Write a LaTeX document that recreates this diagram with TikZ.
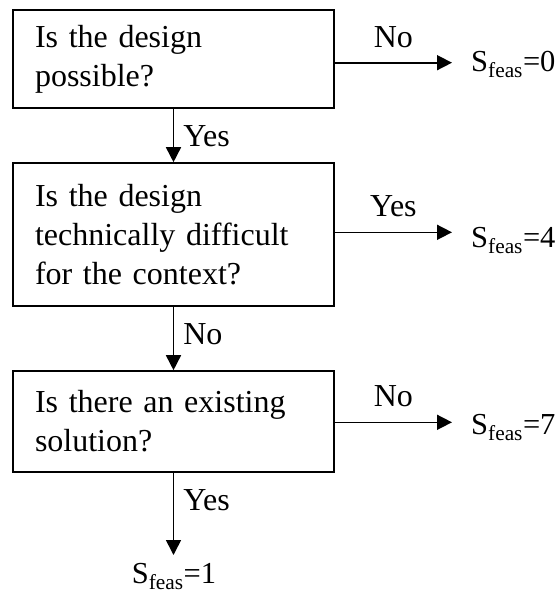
\documentclass[tikz,border=0pt]{standalone}
\usepackage{fontspec}
\setmainfont{Liberation Serif}
\usetikzlibrary{arrows.meta}
\begin{document}
\begin{tikzpicture}[x=1pt,y=-1pt,
  font=\fontsize{32}{39}\selectfont,
  qbox/.style={draw, line width=1.6pt, rectangle, align=left, text width=277pt,
    inner xsep=22pt, inner ysep=0pt, minimum width=321pt},
  arr/.style={line width=1.6pt, -{Triangle[length=15pt,width=15pt]}},
  lab/.style={inner sep=0pt},
  res/.style={inner xsep=19pt, inner ysep=0pt, anchor=base west, font=\fontsize{30.5}{36}\selectfont},
  resb/.style={inner sep=0pt, anchor=base, font=\fontsize{30.5}{36}\selectfont}]
\useasboundingbox (0,0) rectangle (559,600);
\node[qbox, minimum height=98pt] (b1) at (173.5,59) {Is the design\\possible?};
\node[qbox, minimum height=143pt] (b2) at (173.5,234.5) {Is the design\\technically difficult\\for the context?};
\node[qbox, minimum height=101pt] (b3) at (173.5,421.5) {Is there an existing\\solution?};
\node[res] (s0) at (452,71) {S\textsubscript{feas}=0};
\node[res] (s4) at (452,247) {S\textsubscript{feas}=4};
\node[res] (s7) at (452,434) {S\textsubscript{feas}=7};
\node[resb] (s1) at (174,583) {S\textsubscript{feas}=1};
\coordinate (t3) at (173.5,555);
\draw[arr] (b1.south) -- (b2.north) node[lab, anchor=base west, pos=0.71, xshift=9pt] {Yes};
\draw[arr] (b2.south) -- (b3.north) node[lab, anchor=base west, pos=0.6, xshift=9pt] {No};
\draw[arr] (b3.south) -- (t3) node[lab, anchor=base west, pos=0.46, xshift=9pt] {Yes};
\draw[arr] ([yshift=-3.7pt]b1.east) -- ([yshift=-3.7pt]b1.east -| s0.west) node[lab, anchor=base, midway, yshift=15pt] {No};
\draw[arr] ([yshift=2.2pt]b2.east) -- ([yshift=2.2pt]b2.east -| s4.west) node[lab, anchor=base, midway, yshift=16pt] {Yes};
\draw[arr] ([yshift=-0.8pt]b3.east) -- ([yshift=-0.8pt]b3.east -| s7.west) node[lab, anchor=base, midway, yshift=16pt] {No};
\end{tikzpicture}
\end{document}
